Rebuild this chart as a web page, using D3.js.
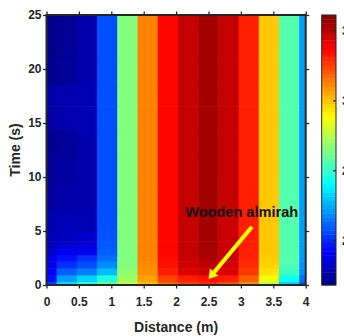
<!DOCTYPE html>
<html>
<head>
<meta charset="utf-8">
<script src="https://d3js.org/d3.v7.min.js"></script>
<style>
body{margin:0;background:#fff;}
svg{display:block;font-family:"Liberation Sans",Arial,sans-serif;}
</style>
</head>
<body>
<div id="chart"></div>
<script>
// grid column centres (m)
var distances = [0, 0.312, 0.624, 0.936, 1.248, 1.56, 1.872, 2.184, 2.496, 2.808, 3.12, 3.432, 3.744, 4.056];
// grid row centres (s)
var times = [0, 0.625, 1.25, 1.875, 2.5, 3.125, 3.75, 4.375, 5.625, 8.125, 10.625, 13.125, 15.625, 17.5, 19.375, 22.5, 25];
// one row per time, one value per distance
var values = [
	[20.3, 23.4, 24.9, 26.1, 27.6, 30.1, 31.7, 32.4, 32.8, 32.2, 31.0, 27.6, 23.2, 20.7],
	[19.5, 22.2, 23.2, 24.6, 27.0, 30.6, 32.4, 33.1, 33.4, 33.1, 31.9, 28.6, 24.3, 21.3],
	[19.2, 21.0, 21.6, 22.8, 26.8, 31.0, 33.1, 34.3, 34.6, 34.3, 32.6, 29.4, 25.2, 21.9],
	[18.9, 20.1, 20.7, 21.9, 26.5, 31.1, 33.4, 34.6, 34.9, 34.5, 32.9, 29.7, 25.5, 22.0],
	[18.6, 19.5, 20.1, 21.3, 26.5, 31.2, 33.5, 34.7, 35.2, 34.7, 33.0, 29.8, 25.6, 22.1],
	[18.3, 18.9, 18.9, 21.0, 26.5, 31.2, 33.6, 34.8, 35.3, 34.7, 33.1, 29.9, 25.6, 22.2],
	[18.0, 18.3, 18.5, 20.9, 26.5, 31.2, 33.6, 34.8, 35.4, 34.7, 33.1, 29.9, 25.6, 22.2],
	[17.8, 18.0, 18.2, 20.8, 26.5, 31.2, 33.6, 34.8, 35.4, 34.7, 33.1, 29.9, 25.6, 22.2],
	[17.7, 17.8, 17.8, 20.7, 26.5, 31.2, 33.6, 34.8, 35.4, 34.7, 33.1, 29.9, 25.6, 22.2],
	[17.4, 17.6, 17.7, 20.7, 26.5, 31.2, 33.6, 34.8, 35.4, 34.8, 33.1, 29.9, 25.6, 22.2],
	[17.2, 17.4, 17.7, 20.7, 26.5, 31.2, 33.6, 34.8, 35.4, 34.8, 33.1, 29.9, 25.6, 22.2],
	[17.1, 17.3, 17.7, 20.7, 26.5, 31.2, 33.6, 34.8, 35.4, 34.8, 33.1, 29.9, 25.6, 22.2],
	[17.5, 17.7, 17.8, 20.7, 26.5, 31.2, 33.6, 34.8, 35.4, 34.8, 33.1, 29.9, 25.6, 22.2],
	[17.6, 17.7, 17.8, 20.7, 26.5, 31.2, 33.6, 34.8, 35.4, 34.8, 33.1, 29.9, 25.6, 22.2],
	[17.1, 17.3, 17.7, 20.7, 26.5, 31.2, 33.6, 34.8, 35.4, 34.8, 33.1, 29.9, 25.6, 22.2],
	[17.0, 17.2, 17.7, 20.7, 26.5, 31.2, 33.6, 34.8, 35.4, 34.8, 33.1, 29.9, 25.6, 22.2],
	[17.0, 17.2, 17.7, 20.7, 26.5, 31.2, 33.6, 34.8, 35.4, 34.8, 33.1, 29.9, 25.6, 22.2]
];
var xTicks = [0, 0.5, 1, 1.5, 2, 2.5, 3, 3.5, 4];
var yTicks = [0, 5, 10, 15, 20, 25];
var cbTicks = [20, 25, 30, 35];
var cbRange = [16.8, 36.1];
// jet colormap
var jetStops = [0, 0.125, 0.375, 0.625, 0.875, 1];
var jetColors = ["#000080", "#0000ff", "#00ffff", "#ffff00", "#ff0000", "#800000"];
// annotation
var noteText = "Wooden almirah";
var notePos = [2.14, 6.3];
var arrowFrom = [3.17, 5.4];
var arrowTo = [2.5, 0.55];

var W = 344, H = 336;
var plot = {left:46.5, top:15, right:305.7, bottom:285};
var axisColor = "#262626";

var svg = d3.select("#chart").append("svg")
	.attr("width", W)
	.attr("height", H);

var x = d3.scaleLinear().domain([0, 4]).range([plot.left, plot.right]);
var y = d3.scaleLinear().domain([0, 25]).range([plot.bottom, plot.top]);

var color = d3.scaleLinear()
	.domain(jetStops.map(function(t){ return cbRange[0] + t*(cbRange[1]-cbRange[0]); }))
	.range(jetColors)
	.clamp(true);

// cell edges from the centres (imagesc style)
function edges(c){
	var e = [];
	for(var i=0; i<c.length; i++){
		var lo = i==0 ? c[0]-(c[1]-c[0])/2 : (c[i-1]+c[i])/2;
		var hi = i==c.length-1 ? c[i]+(c[i]-c[i-1])/2 : (c[i]+c[i+1])/2;
		e.push([lo, hi]);
	}
	return e;
}
var xe = edges(distances), ye = edges(times);

svg.append("clipPath").attr("id", "plotclip")
	.append("rect")
	.attr("x", plot.left).attr("y", plot.top)
	.attr("width", plot.right-plot.left).attr("height", plot.bottom-plot.top);

var cells = [];
values.forEach(function(row, r){
	row.forEach(function(v, c){
		cells.push({r:r, c:c, v:v});
	});
});

svg.append("g")
	.attr("clip-path", "url(#plotclip)")
	.selectAll("rect")
	.data(cells).enter().append("rect")
	.attr("x", function(d){ return x(xe[d.c][0]); })
	.attr("width", function(d){ return x(xe[d.c][1]) - x(xe[d.c][0]) + 0.5; })
	.attr("y", function(d){ return y(ye[d.r][1]); })
	.attr("height", function(d){ return y(ye[d.r][0]) - y(ye[d.r][1]) + 0.5; })
	.attr("fill", function(d){ return color(d.v); });

// annotation
svg.append("text")
	.attr("x", x(notePos[0]))
	.attr("y", y(notePos[1]))
	.attr("font-family", "'Liberation Sans Narrow','Liberation Sans',Arial,sans-serif")
	.attr("font-size", 15)
	.attr("font-weight", "bold")
	.attr("fill", "#111")
	.attr("textLength", 113)
	.attr("lengthAdjust", "spacingAndGlyphs")
	.text(noteText);

var ax = x(arrowFrom[0]), ay = y(arrowFrom[1]);
var bx = x(arrowTo[0]), by = y(arrowTo[1]);
var ang = Math.atan2(by-ay, bx-ax);
var headLen = 9, headW = 5.5;
var hx = bx - headLen*Math.cos(ang), hy = by - headLen*Math.sin(ang);
svg.append("line")
	.attr("x1", ax).attr("y1", ay)
	.attr("x2", hx).attr("y2", hy)
	.attr("stroke", "#ffff00")
	.attr("stroke-width", 4);
svg.append("path")
	.attr("fill", "#ffff00")
	.attr("d", d3.line()([
		[bx, by],
		[hx + headW*Math.sin(ang), hy - headW*Math.cos(ang)],
		[hx - headW*Math.sin(ang), hy + headW*Math.cos(ang)]
	]));

// axes
function styleAxis(g){
	g.select(".domain").remove();
	g.selectAll(".tick line").attr("stroke", axisColor).attr("stroke-width", 1.3);
	g.selectAll(".tick text")
		.attr("fill", axisColor)
		.attr("font-size", 12)
		.attr("font-weight", "bold");
}
var fmt = d3.format("");

svg.append("g")
	.attr("transform", "translate(0," + plot.bottom + ")")
	.call(d3.axisBottom(x).tickValues(xTicks).tickFormat(fmt).tickSize(3.5).tickPadding(9))
	.call(styleAxis);
svg.append("g")
	.attr("transform", "translate(0," + plot.top + ")")
	.call(d3.axisTop(x).tickValues(xTicks).tickFormat("").tickSize(3.5))
	.call(styleAxis);
svg.append("g")
	.attr("transform", "translate(" + plot.left + ",0)")
	.call(d3.axisLeft(y).tickValues(yTicks).tickFormat(fmt).tickSize(3.5).tickPadding(1.5))
	.call(styleAxis);
svg.append("g")
	.attr("transform", "translate(" + plot.right + ",0)")
	.call(d3.axisRight(y).tickValues(yTicks).tickFormat("").tickSize(3.5))
	.call(styleAxis);

svg.append("rect")
	.attr("x", plot.left).attr("y", plot.top)
	.attr("width", plot.right-plot.left).attr("height", plot.bottom-plot.top)
	.attr("fill", "none")
	.attr("stroke", axisColor)
	.attr("stroke-width", 2);

// axis titles
svg.append("text")
	.attr("x", (plot.left+plot.right)/2)
	.attr("y", 332)
	.attr("text-anchor", "middle")
	.attr("font-size", 14)
	.attr("font-weight", "bold")
	.attr("fill", axisColor)
	.text("Distance (m)");
svg.append("text")
	.attr("transform", "translate(20," + (plot.top+plot.bottom)/2 + ") rotate(-90)")
	.attr("text-anchor", "middle")
	.attr("font-size", 14)
	.attr("font-weight", "bold")
	.attr("fill", axisColor)
	.text("Time (s)");

// colorbar
var cb = {left:321.7, width:14.3};
var cy = d3.scaleLinear().domain(cbRange).range([plot.bottom, plot.top]);
var nSteps = 64;
var steps = d3.range(nSteps).map(function(i){
	return cbRange[0] + (i+0.5)*(cbRange[1]-cbRange[0])/nSteps;
});
var stepH = (plot.bottom-plot.top)/nSteps;
svg.append("g").selectAll("rect")
	.data(steps).enter().append("rect")
	.attr("x", cb.left)
	.attr("width", cb.width)
	.attr("y", function(d){ return cy(d) - stepH/2; })
	.attr("height", stepH + 0.4)
	.attr("fill", function(d){ return color(d); });
svg.append("rect")
	.attr("x", cb.left).attr("y", plot.top)
	.attr("width", cb.width).attr("height", plot.bottom-plot.top)
	.attr("fill", "none")
	.attr("stroke", axisColor)
	.attr("stroke-width", 1);
var cbAxis = svg.append("g")
	.attr("transform", "translate(" + (cb.left+cb.width) + ",0)")
	.call(d3.axisRight(cy).tickValues(cbTicks).tickFormat(fmt).tickSize(-3).tickPadding(6))
	.call(styleAxis);
</script>
</body>
</html>
